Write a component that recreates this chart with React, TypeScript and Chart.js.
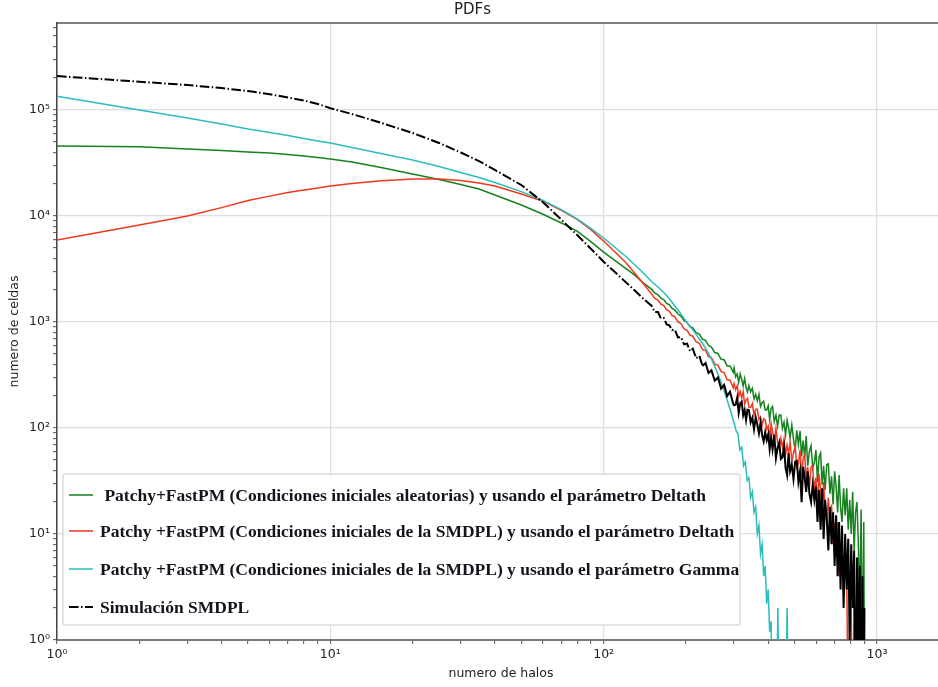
import React, { useEffect, useRef } from 'react';
import { Chart, registerables } from 'chart.js';

Chart.register(...registerables);

const chartTitle = 'PDFs';
const xAxisTitle = 'numero de halos';
const yAxisTitle = 'numero de celdas';

const xTickValues = [1, 2, 3, 4, 5, 6, 7, 8, 9, 10, 20, 30, 40, 50, 60, 70, 80, 90, 100, 200, 300, 400, 500, 600, 700, 800, 900, 1000];
const yTickValues = [1, 2, 3, 4, 5, 6, 7, 8, 9, 10, 20, 30, 40, 50, 60, 70, 80, 90, 100, 200, 300, 400, 500, 600, 700, 800, 900,
  1000, 2000, 3000, 4000, 5000, 6000, 7000, 8000, 9000, 10000, 20000, 30000, 40000, 50000, 60000, 70000, 80000, 90000,
  100000, 200000, 300000, 400000, 500000, 600000];

const seriesLabels = [
  ' Patchy+FastPM (Condiciones iniciales aleatorias) y usando el parámetro Deltath',
  'Patchy +FastPM (Condiciones iniciales de la SMDPL) y usando el parámetro Deltath',
  'Patchy +FastPM (Condiciones iniciales de la SMDPL) y usando el parámetro Gamma',
  'Simulación SMDPL',
];

// halo-count grids used by the curves (low, middle and noisy tail parts)
const lowHalos = [1, 2, 3, 4, 5, 6, 7, 8, 9, 10, 12, 15, 20, 25, 30, 35, 40, 50, 60, 70, 80, 90, 100, 120, 130, 140];
const midHalos = [150, 154, 158, 162, 166, 170, 174, 178, 182, 187, 192, 197, 202, 207, 212, 218, 224, 230, 236, 242, 248,
  255, 262, 269, 276, 283, 290, 298];
const tailHalos = [300, 304, 308, 312, 316, 320, 324, 328, 332, 336, 340, 345, 350, 355, 360, 365, 370, 375, 380, 385, 390, 395, 400,
  405, 410, 415, 421, 427, 433, 439, 445, 451, 457, 463, 469, 475, 481, 488, 495, 502, 509, 516, 523, 530, 537, 544, 551, 558,
  566, 574, 582, 590, 598, 606, 614, 622, 630, 638, 646, 655, 664, 673, 682, 691, 700, 709, 718, 727, 736, 745, 755, 765, 775,
  785, 795, 805, 815, 825, 835, 845, 855, 865, 875, 885, 895];

// Patchy+FastPM, random ICs, Deltath (green)
const greenLow = [45700, 45000, 42900, 41500, 40200, 39300, 38000, 36800, 35600, 34500, 32300, 29000, 24900, 22100, 19800, 18000,
  15800, 12700, 10400, 8600, 7200, 5690, 4570, 3230, 2770, 2330];
const greenMid = [2030, 1870, 1810, 1680, 1630, 1500, 1450, 1340, 1300, 1190, 1130, 1030, 990, 905, 880, 795, 770, 690, 670, 600,
  580, 515, 505, 445, 440, 385, 385, 335];
const greenTail = [369, 303, 324, 269, 324, 287, 250, 293, 241, 219,
  251, 219, 237, 188, 208, 180, 208, 159, 173, 179,
  148, 148, 162, 120, 153, 160, 115, 132, 104, 133,
  133, 99, 113, 86, 118, 100, 81, 107, 79, 62,
  95, 70, 94, 54, 76, 53, 84, 44, 60, 68,
  42, 47, 62, 31, 53, 58, 29, 44, 26, 45,
  46, 24, 35, 19, 39, 28, 16, 36, 18, 13,
  27, 15, 27, 11, 21, 10, 25, 7, 16, 20,
  8, 2, 17, 0.5, 13];
const greenEndHalos = [900];
const greenEnd = [0.3];

// Patchy+FastPM, SMDPL ICs, Deltath (red)
const redLow = [5940, 8230, 10000, 12000, 14000, 15400, 16700, 17600, 18400, 19200, 20300, 21400, 22300, 22300, 21600, 20500,
  19200, 16100, 13800, 11300, 9300, 7400, 5800, 3680, 2880, 2280];
const redMid = [1830, 1670, 1610, 1470, 1430, 1300, 1270, 1150, 1125, 1000, 965, 860, 835, 750, 735, 650, 630, 550, 540, 470,
  462, 400, 392, 340, 333, 285, 282, 240];
const redTail = [262, 230, 251, 199, 221, 192, 220, 168, 184, 190,
  158, 156, 170, 132, 150, 151, 120, 127, 107, 122,
  119, 97, 104, 80, 110, 93, 75, 99, 73, 64,
  80, 66, 79, 56, 69, 57, 73, 49, 58, 68,
  43, 46, 62, 34, 52, 56, 32, 43, 28, 43,
  44, 25, 34, 19, 37, 25, 16, 31, 16, 13,
  22, 12, 19, 8, 13, 6, 13, 4, 7, 8,
  3, 4, 5, 0.1, 3, 2, 0.1, 2];
const redEndHalos = [835];
const redEnd = [0.1];

// Patchy+FastPM, SMDPL ICs, Gamma (cyan)
const cyanHalos = [1, 2, 3, 4, 5, 6, 7, 8, 9, 10, 12, 15, 20, 25, 30, 35, 40, 50, 60, 70, 80, 90, 100, 120, 130, 140,
  150, 160, 170, 180, 190, 200, 210, 220, 230, 240, 250, 260, 270, 280, 290, 300,
  305, 310, 315, 320, 325, 330, 335, 340, 345, 350, 355, 360, 365, 370, 375, 380, 385, 390, 395, 400, 405, 410,
  414, 428, 434, 440, 462, 469, 476, 489];
const cyanCounts = [135000, 100000, 84100, 73800, 66200, 61400, 57500, 53800, 51000, 48900, 44300, 39300, 33700, 29300, 25700, 23100,
  20700, 17000, 14000, 11500, 9400, 7600, 6200, 4200, 3470, 2880,
  2400, 2080, 1780, 1480, 1230, 1020, 870, 740, 630, 525, 427, 339, 263, 200, 151, 112,
  95, 88, 62, 66, 44, 48, 32, 34, 22, 25, 16, 18, 10, 12, 6.5, 8, 4, 5, 2.2, 3, 1.2, 1.5,
  0.1, 0.1, 2, 0.1, 0.1, 2, 0.1, 0.1];

// Simulación SMDPL (black, dash-dot)
const blackLow = [209000, 185000, 172000, 161000, 151000, 141000, 131000, 123000, 114000, 104000, 91600, 77100, 60700, 48900, 39700,
  33000, 27200, 19600, 13500, 9250, 6620, 4880, 3700, 2400, 1980, 1650];
const blackMid = [1420, 1240, 1240, 1080, 1090, 950, 930, 840, 850, 715, 720, 615, 625, 530, 560, 455, 480, 385, 410, 330,
  350, 280, 300, 235, 255, 200, 220, 168];
const blackTail = [164, 166, 193, 139, 171, 177, 132, 148, 119, 149,
  148, 113, 125, 97, 126, 108, 89, 112, 86, 75,
  91, 77, 87, 63, 81, 63, 86, 52, 65, 73,
  51, 53, 66, 42, 36, 58, 39, 45, 33, 48,
  49, 31, 39, 20, 43, 34, 25, 39, 24, 20,
  29, 21, 28, 13, 26, 11, 27, 9, 21, 14,
  7, 18, 8, 16, 5, 15, 4, 13, 3, 12,
  2, 10, 3, 9, 1, 8, 2, 7, 0.1, 6,
  1, 5, 0.1, 4, 0.1];
const blackEndHalos = [900];
const blackEnd = [2];

const seriesColors = ['#15821e', '#f0381e', '#2bbcbc', '#000000'];

const SUP = ['⁰', '¹', '²', '³', '⁴', '⁵', '⁶', '⁷', '⁸', '⁹'];
const isMajor = (v: number) => {
  const l = Math.log10(v);
  return Math.abs(l - Math.round(l)) < 1e-9;
};
const logLabel = (v: number) => {
  if (!isMajor(v)) return '';
  const e = Math.round(Math.log10(v));
  return '10' + String(e).split('').map((d) => SUP[+d]).join('');
};

const DASHDOT = [9.6, 2.4, 1.5, 2.4];
const DENSE_FROM = 230; // beyond here the dense noisy data hides the dash pattern

const framePlugin = {
  id: 'topSpine',
  afterDraw(chart: any) {
    const { ctx, chartArea } = chart;
    ctx.save();
    ctx.strokeStyle = '#555';
    ctx.lineWidth = 1.5;
    ctx.beginPath();
    ctx.moveTo(chartArea.left, chartArea.top);
    ctx.lineTo(chartArea.right, chartArea.top);
    ctx.stroke();
    ctx.restore();
  },
};

const legendPlugin = {
  id: 'innerLegend',
  afterDraw(chart: any) {
    const { ctx, chartArea } = chart;
    const x0 = chartArea.left + 6;
    const y0 = chartArea.bottom - 166;
    const w = 677;
    const h = 151;
    ctx.save();
    ctx.fillStyle = 'rgba(255,255,255,0.9)';
    ctx.strokeStyle = '#dcdcdc';
    ctx.lineWidth = 1.5;
    ctx.beginPath();
    ctx.roundRect(x0, y0, w, h, 2);
    ctx.fill();
    ctx.stroke();
    const rowOffsets = [21, 57, 95, 133];
    ctx.font = 'bold 17.5px "Liberation Serif", "Times New Roman", serif';
    ctx.textBaseline = 'middle';
    ctx.textAlign = 'left';
    chart.data.datasets.forEach((ds: any, i: number) => {
      const y = y0 + rowOffsets[i];
      ctx.strokeStyle = ds.borderColor;
      ctx.lineWidth = ds.borderWidth;
      ctx.setLineDash(ds.borderDash || []);
      ctx.beginPath();
      ctx.moveTo(x0 + 6, y);
      ctx.lineTo(x0 + 30, y);
      ctx.stroke();
      ctx.setLineDash([]);
      ctx.fillStyle = '#14141e';
      ctx.fillText(ds.label, x0 + 37, y + 1);
    });
    ctx.restore();
  },
};

const pts = (xs: number[], ys: number[]) => xs.map((x, i) => ({ x, y: ys[i] }));

export default function App() {
  const ref = useRef<HTMLCanvasElement>(null);
  useEffect(() => {
    if (!ref.current) return;
    const gridColor = (c: any) => (c.tick && isMajor(c.tick.value) ? '#dedede' : 'rgba(0,0,0,0)');
    const green = pts([...lowHalos, ...midHalos, ...tailHalos, ...greenEndHalos], [...greenLow, ...greenMid, ...greenTail, ...greenEnd]);
    const red = pts([...lowHalos, ...midHalos, ...tailHalos.slice(0, redTail.length), ...redEndHalos], [...redLow, ...redMid, ...redTail, ...redEnd]);
    const cyan = pts(cyanHalos, cyanCounts);
    const black = pts([...lowHalos, ...midHalos, ...tailHalos, ...blackEndHalos], [...blackLow, ...blackMid, ...blackTail, ...blackEnd]);
    const tickFont = { family: 'DejaVu Sans', size: 12.5 };
    const chart = new Chart(ref.current, {
      type: 'line',
      data: {
        datasets: [
          { label: seriesLabels[0], data: green, borderColor: seriesColors[0], borderWidth: 1.5, order: 4 },
          { label: seriesLabels[1], data: red, borderColor: seriesColors[1], borderWidth: 1.5, order: 3 },
          { label: seriesLabels[2], data: cyan, borderColor: seriesColors[2], borderWidth: 1.5, order: 2 },
          {
            label: seriesLabels[3], data: black, borderColor: seriesColors[3], borderWidth: 2, borderDash: DASHDOT, order: 1,
            segment: { borderDash: (c: any) => (c.p0.parsed.x >= DENSE_FROM ? [] : DASHDOT) },
          },
        ] as any,
      },
      options: {
        animation: false,
        responsive: false,
        devicePixelRatio: 1,
        layout: { padding: { left: 0, right: 57, top: 0, bottom: 0 } },
        elements: { point: { radius: 0 }, line: { tension: 0, fill: false } },
        plugins: {
          legend: { display: false },
          tooltip: { enabled: false },
          title: {
            display: true,
            text: chartTitle,
            color: '#222',
            font: { family: 'DejaVu Sans', size: 15, weight: 'normal', lineHeight: 1.2 },
            padding: { top: 1, bottom: 4 },
          },
        },
        scales: {
          x: {
            type: 'logarithmic',
            min: 1,
            max: 1774,
            afterBuildTicks: (s: any) => { s.ticks = xTickValues.map((v) => ({ value: v })); },
            afterFit: (s: any) => { s.height = 47; },
            ticks: {
              autoSkip: false,
              maxRotation: 0,
              padding: 3,
              color: '#222',
              font: tickFont,
              callback: (v: any) => logLabel(Number(v)),
            },
            grid: { color: gridColor, lineWidth: 1.3, tickColor: '#555', tickLength: 4, tickWidth: 1 },
            border: { color: '#7a7a7a', width: 2 },
            title: { display: true, text: xAxisTitle, color: '#222', font: tickFont, padding: { top: 0, bottom: 6 } },
          },
          y: {
            type: 'logarithmic',
            min: 1,
            max: 662000,
            afterBuildTicks: (s: any) => { s.ticks = yTickValues.map((v) => ({ value: v })); },
            afterFit: (s: any) => { s.width = 57; },
            ticks: {
              autoSkip: false,
              padding: 3,
              color: '#222',
              font: tickFont,
              callback: (v: any) => logLabel(Number(v)),
            },
            grid: { color: gridColor, lineWidth: 1.3, tickColor: '#555', tickLength: 4, tickWidth: 1 },
            border: { color: '#444', width: 1.5 },
            title: { display: true, text: yAxisTitle, color: '#222', font: tickFont, padding: { top: 7, bottom: 0 } },
          },
        },
      } as any,
      plugins: [framePlugin, legendPlugin],
    });
    return () => chart.destroy();
  }, []);
  return (
    <div style={{ position: 'fixed', left: 0, top: 0, width: 938, height: 687, overflow: 'hidden', background: '#fff' }}>
      <canvas ref={ref} width={1002} height={687} style={{ display: 'block', width: 1002, height: 687 }} />
    </div>
  );
}
